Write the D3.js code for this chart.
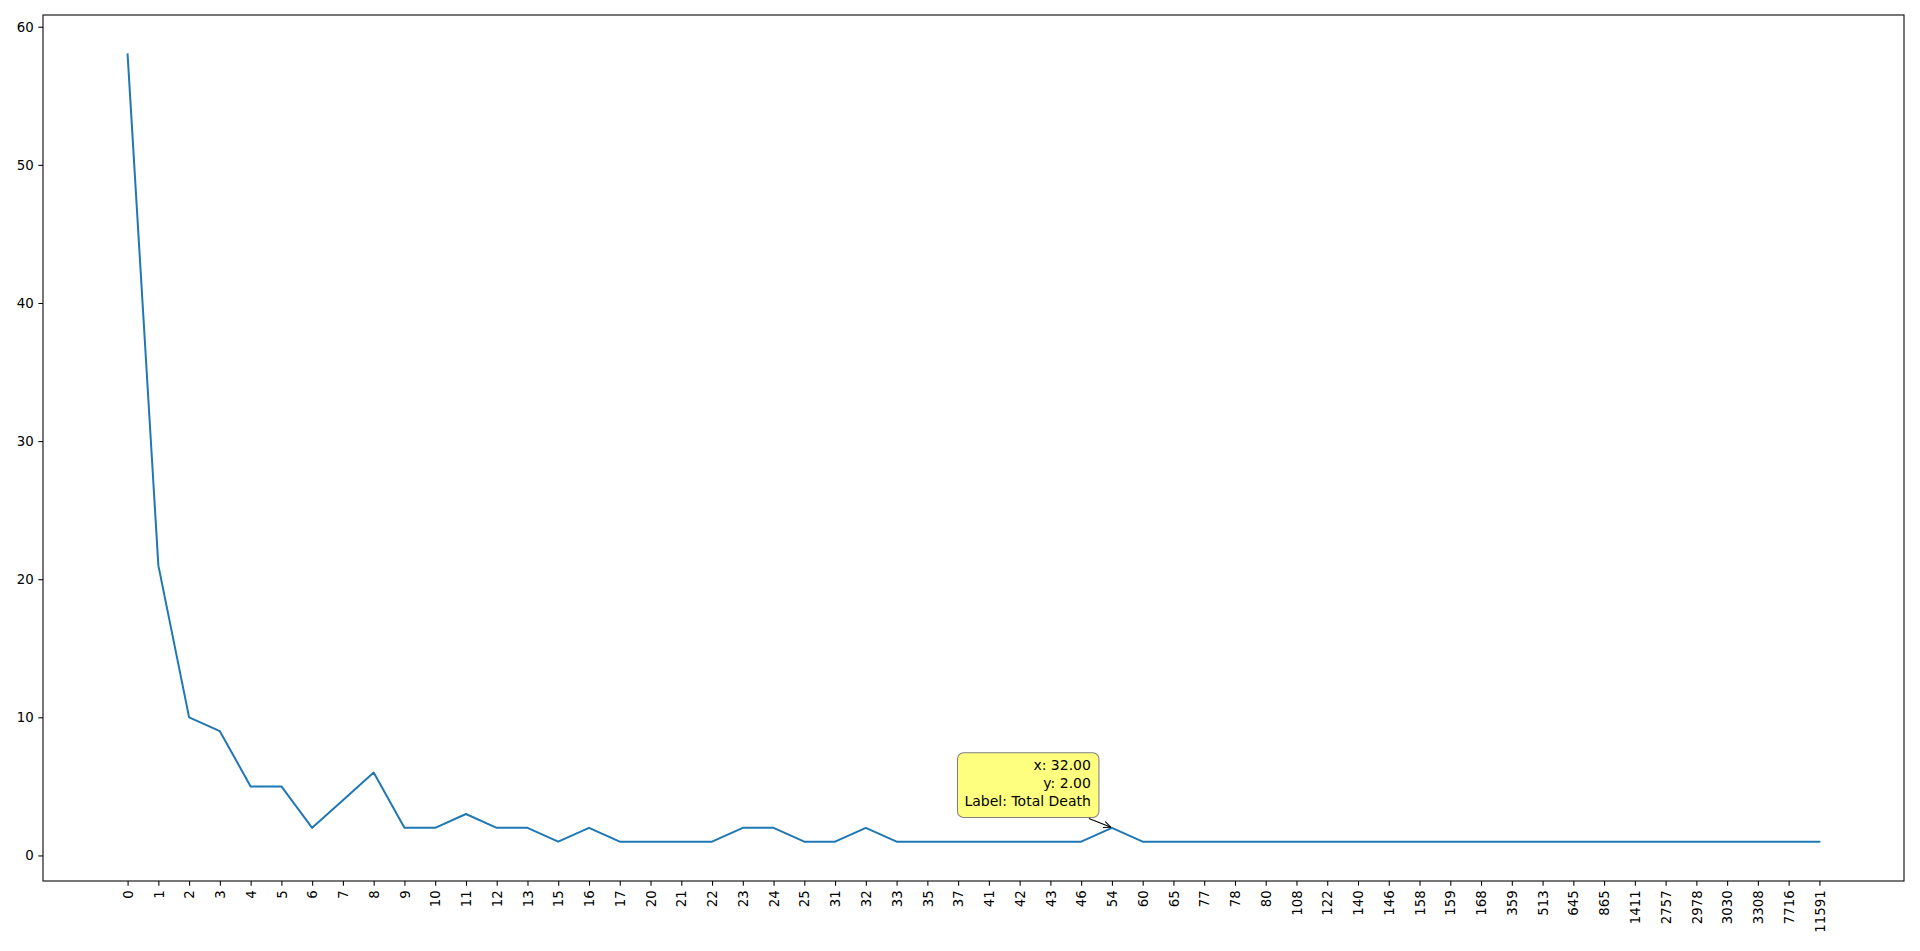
<!DOCTYPE html>
<html>
<head>
<meta charset="utf-8">
<script src="https://cdn.jsdelivr.net/npm/d3@7"></script>
<style>
  html, body { margin: 0; padding: 0; background: #fff; }
  svg { display: block; }
  text { font-family: "DejaVu Sans", sans-serif; }
</style>
</head>
<body>
<svg id="chart" width="1920" height="951"></svg>
<script>
const categories = ["0","1","2","3","4","5","6","7","8","9","10","11","12","13","15","16","17","20","21","22","23","24","25","31","32","33","35","37","41","42","43","46","54","60","65","77","78","80","108","122","140","146","158","159","168","359","513","645","865","1411","2757","2978","3030","3308","7716","11591"];
const values = [58,21,10,9,5,5,2,4,6,2,2,3,2,2,1,2,1,1,1,1,2,2,1,1,2,1,1,1,1,1,1,1,2,1,1,1,1,1,1,1,1,1,1,1,1,1,1,1,1,1,1,1,1,1,1,1];
const yTicks = [0,10,20,30,40,50,60];
const annotIndex = 32;
const seriesLabel = "Total Death";

(function () {
const mLeft = 43, mRight = 1904, mTop = 15, mBottom = 881;
const svg = d3.select("#chart");

const n = categories.length;
const xm = (n - 1) * 0.05;
const x = d3.scaleLinear().domain([-xm, n - 1 + xm]).range([mLeft, mRight]);
const ymin = d3.min(values), ymax = d3.max(values);
const ym = (ymax - ymin) * 0.05;
const y = d3.scaleLinear().domain([ymin - ym, ymax + ym]).range([mBottom, mTop]);

// line
const line = d3.line().x((d, i) => x(i)).y(d => y(d));
svg.append("path")
  .datum(values)
  .attr("d", line)
  .attr("fill", "none")
  .attr("stroke", "#1f77b4")
  .attr("stroke-width", 2)
  .attr("stroke-linejoin", "round")
  .attr("stroke-linecap", "square");

// x axis
const xAxis = d3.axisBottom(x)
  .tickValues(d3.range(n))
  .tickFormat(i => categories[i])
  .tickSize(4.67)
  .tickPadding(4.67);
const gx = svg.append("g").attr("transform", `translate(0,${mBottom})`).call(xAxis);
gx.select(".domain").remove();
gx.selectAll(".tick line").attr("stroke", "#000").attr("stroke-width", 1.07);
gx.selectAll(".tick text")
  .attr("font-size", "13.33px")
  .attr("font-family", "DejaVu Sans")
  .attr("fill", "#000")
  .attr("transform", "rotate(-90)")
  .attr("text-anchor", "end")
  .attr("x", -9.3)
  .attr("y", 0)
  .attr("dy", "0.35em");

// y axis
const yAxis = d3.axisLeft(y)
  .tickValues(yTicks)
  .tickFormat(d3.format("d"))
  .tickSize(4.67)
  .tickPadding(4.67);
const gy = svg.append("g").attr("transform", `translate(${mLeft},0)`).call(yAxis);
gy.select(".domain").remove();
gy.selectAll(".tick line").attr("stroke", "#000").attr("stroke-width", 1.07);
gy.selectAll(".tick text")
  .attr("font-size", "13.33px")
  .attr("font-family", "DejaVu Sans")
  .attr("fill", "#000");

// frame
svg.append("rect")
  .attr("x", mLeft).attr("y", mTop)
  .attr("width", mRight - mLeft).attr("height", mBottom - mTop)
  .attr("fill", "none").attr("stroke", "#000").attr("stroke-width", 1.07);

// annotation
const px = x(annotIndex), py = y(values[annotIndex]);
const textRight = px - 21;
const firstBase = py - 58, lineGap = 18.3;
const lines = [`x: ${annotIndex.toFixed(2)}`, `y: ${values[annotIndex].toFixed(2)}`, `Label: ${seriesLabel}`];
const g = svg.append("g");
const box = g.append("rect")
  .attr("fill", "#ffff7f")
  .attr("stroke", "#808080")
  .attr("stroke-width", 1.07)
  .attr("rx", 6).attr("ry", 6);
const txt = g.append("text")
  .attr("font-size", "14px")
  .attr("fill", "#000")
  .attr("text-anchor", "end");
lines.forEach((l, i) => {
  txt.append("tspan").attr("x", textRight).attr("y", firstBase + i * lineGap).text(l);
});
const bb = txt.node().getBBox();
const lastBase = firstBase + (lines.length - 1) * lineGap;
const boxTop = firstBase - 17, boxBottom = lastBase + 11;
box.attr("x", bb.x - 7).attr("y", boxTop).attr("width", bb.width + 15).attr("height", boxBottom - boxTop);
// arrow
const sx = px - 23, sy = boxBottom + 1;
const ex = px - 1, ey = py - 0.5;
svg.append("line")
  .attr("x1", sx).attr("y1", sy).attr("x2", ex).attr("y2", ey)
  .attr("stroke", "#000").attr("stroke-width", 1.07);
const ang = Math.atan2(ey - sy, ex - sx);
const hl = 8, ha = 0.4;
[ang + Math.PI - ha, ang + Math.PI + ha].forEach(a => {
  svg.append("line")
    .attr("x1", ex).attr("y1", ey)
    .attr("x2", ex + hl * Math.cos(a)).attr("y2", ey + hl * Math.sin(a))
    .attr("stroke", "#000").attr("stroke-width", 1.07);
});
})();
</script>
</body>
</html>
